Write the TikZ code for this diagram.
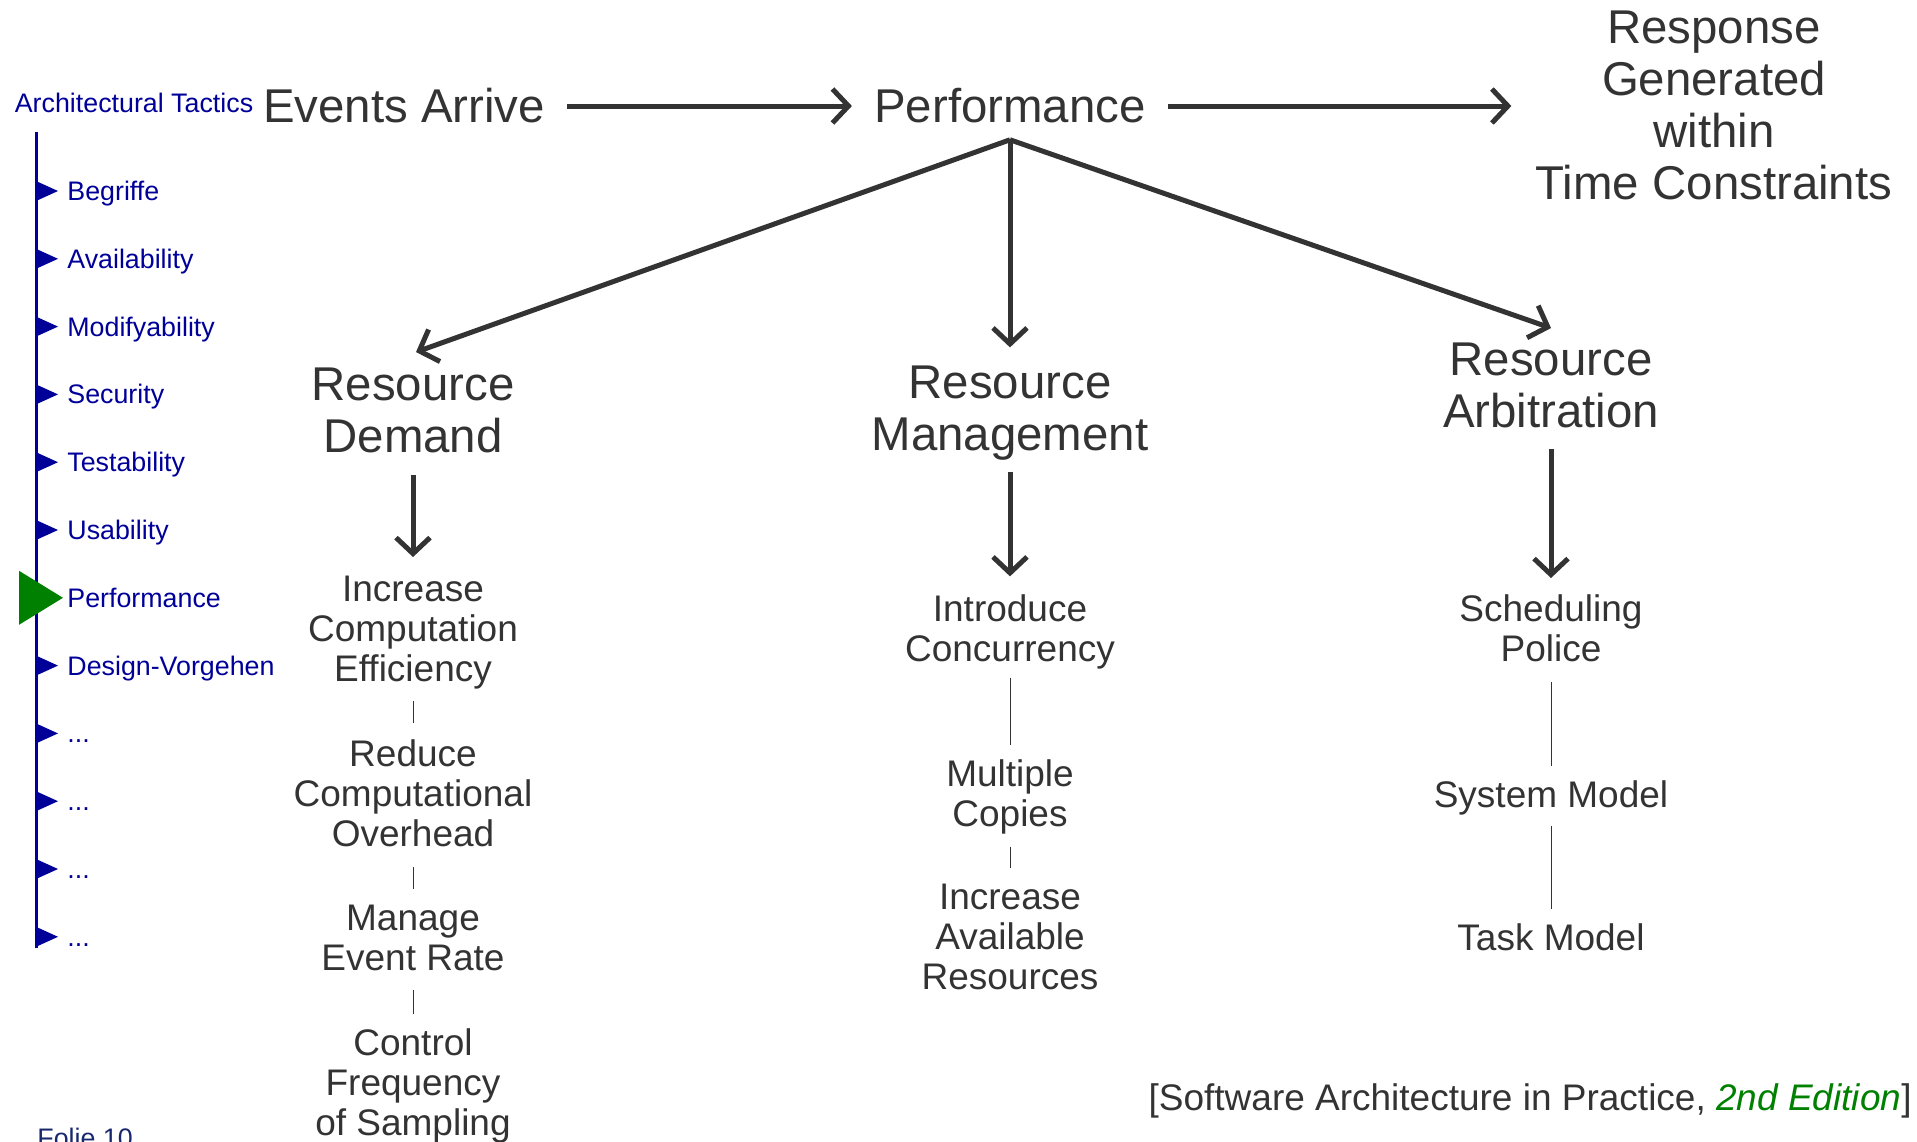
\documentclass[tikz,border=0pt]{standalone}
\usepackage{fontspec}
\setmainfont{Liberation Sans}
\usepackage{xcolor}
\usetikzlibrary{arrows.meta}
\definecolor{txtgray}{RGB}{51,51,51}
\definecolor{navblue}{RGB}{0,0,153}
\definecolor{navgreen}{RGB}{0,128,0}
\definecolor{folieblue}{RGB}{25,40,110}
\tikzset{
	big/.style={text=txtgray, align=center, inner sep=0pt,
			font=\fontsize{23.7}{26}\selectfont},
	tactic/.style={text=txtgray, align=center, inner sep=0pt,
			font=\fontsize{18.5}{20}\selectfont},
	nav/.style={text=navblue, inner sep=0pt,
			font=\fontsize{13.4}{15}\selectfont},
	flow/.style={draw=txtgray, line width=2.5pt,
			-{Straight Barb[length=8pt,width=17pt]}},
	sep/.style={draw=txtgray, line width=0.5pt}
}
\newcommand{\navdots}{...}

\begin{document}
\begin{tikzpicture}[x=0.5pt,y=-0.5pt]
	\useasboundingbox (0,0) rectangle (1917,1141);
	% navigation on the left
	\node[nav] (navtitle) at (134,103) {Architectural Tactics};
	\draw[navblue, line width=1.5pt] (36.5,132) -- (36.5,948);
	\foreach \lbl [count=\i, evaluate=\i as \y using 191+67.8*(\i-1)] in
		{Begriffe, Availability, Modifyability, Security, Testability, Usability,
		 Performance, Design-Vorgehen, \navdots, \navdots, \navdots, \navdots} {
		\ifnum\i=7
			\fill[navgreen] (19,\y-27) -- (63,\y) -- (19,\y+27) -- cycle;
		\else
			\fill[navblue] (36,\y-10) -- (58,\y) -- (36,\y+10) -- cycle;
		\fi
		\node[nav, anchor=base west] (nav\i) at (67,\y+9.5) {\lbl};
	}
	\node[nav, text=folieblue, anchor=base west] (folie) at (37,1147) {Folie 10};

	% top row
	\node[big] (events) at (404,106) {Events Arrive};
	\node[big] (perf) at (1010,106) {Performance};
	\node[big] (resp) at (1714,105) {Response\\Generated\\within\\Time Constraints};
	\draw[flow, shorten <=11pt, shorten >=11pt] (events.east) -- (perf.west);
	\draw[flow, shorten <=11pt, shorten >=12pt] (perf.east) -- (perf.east -| resp.west);

	% three groups of tactics
	\node[big] (demand) at (413,410) {Resource\\Demand};
	\node[big] (mgmt) at (1010,413) {Resource\\Management};
	\node[big] (arbit) at (1551,385) {Resource\\Arbitration};
	\coordinate (hub) at ([yshift=-8pt]perf.south);
	\draw[flow] (hub) -- ([xshift=1.5pt, yshift=7.5pt]demand.north);
	\draw[flow] (hub) -- ([yshift=9pt]mgmt.north);
	\draw[flow] (hub) -- ([yshift=7pt]arbit.north);

	% resource demand
	\node[tactic] (effic) at (413,633) {Increase\\Computation\\Efficiency};
	\node[tactic] (overhead) at (413,793) {Reduce\\Computational\\Overhead};
	\node[tactic] (rate) at (413,938) {Manage\\Event Rate};
	\node[tactic] (sampling) at (413,1086) {Control\\Frequency\\of Sampling};
	\draw[flow, shorten <=11pt, shorten >=9.5pt] (demand.south) -- (effic.north);
	\draw[sep, shorten <=5.5pt, shorten >=8pt] (effic) -- (overhead);
	\draw[sep, shorten <=10pt, shorten >=8pt] (overhead) -- (rate);
	\draw[sep, shorten <=9.5pt, shorten >=7pt] (rate) -- (sampling);

	% resource management
	\node[tactic] (concur) at (1010,632) {Introduce\\Concurrency};
	\node[tactic] (copies) at (1010,797) {Multiple\\Copies};
	\node[tactic] (avail) at (1010,937) {Increase\\Available\\Resources};
	\draw[flow, shorten <=5.5pt, shorten >=9pt] (mgmt.south) -- (concur.north);
	\draw[sep, shorten <=4pt, shorten >=7pt] (concur) -- (copies);
	\draw[sep, shorten <=6pt, shorten >=8pt] (copies) -- (avail);

	% resource arbitration
	\node[tactic] (police) at (1551,628) {Scheduling\\Police};
	\node[tactic] (sysmodel) at (1551,798) {System Model};
	\node[tactic] (taskmodel) at (1551,937) {Task Model};
	\draw[flow, shorten <=10.5pt, shorten >=8pt] (arbit.south) -- (police.north);
	\draw[sep, shorten <=10pt, shorten >=7pt] (police) -- (sysmodel);
	\draw[sep, shorten <=5pt, shorten >=7pt] (sysmodel) -- (taskmodel);

	\node[tactic, anchor=base east] (source) at (1912,1110)
		{[Software Architecture in Practice, \textcolor{navgreen}{\itshape 2nd Edition}]};
\end{tikzpicture}
\end{document}
